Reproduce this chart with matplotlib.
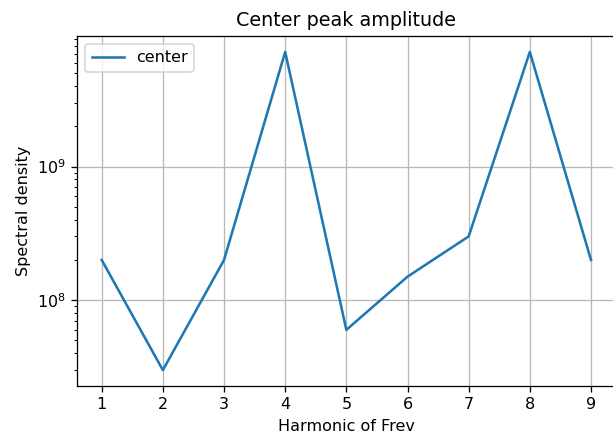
import numpy as np
import matplotlib.pyplot as plt

# harmonics and center peak amplitude
harmonics = [1, 2, 3, 4, 5, 6, 7, 8, 9]
center = [2.0e8, 3.0e7, 2.0e8, 7.2e9, 6.0e7, 1.5e8, 3.0e8, 7.2e9, 2.0e8]

dpi = 115
fig = plt.figure(figsize=(613 / dpi, 435 / dpi), dpi=dpi)
# right spine sits just past the image edge in the reference
ax = fig.add_axes([0.126, 0.1126, 0.878, 0.8046])
ax.plot(harmonics, center, label='center', color='#1f77b4', linewidth=1.6)
ax.set_yscale('log')
ax.set_xticks(harmonics)
ax.set_xlabel('Harmonic of Frev')
ax.set_ylabel('Spectral density')
ax.set_title('Center peak amplitude')
ax.legend(loc='upper left')
ax.grid(True, color='#b8b8b8', linewidth=0.8)
fig.savefig('out.png', dpi=dpi)
